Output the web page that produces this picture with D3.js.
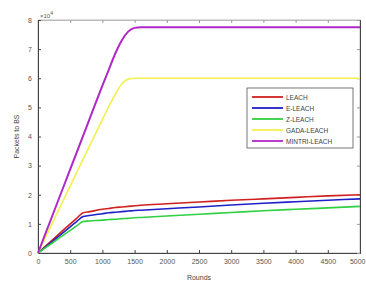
<!DOCTYPE html>
<html>
<head>
<meta charset="utf-8">
<script src="https://cdn.jsdelivr.net/npm/d3@7"></script>
<style>
  body { margin: 0; background: #fff; }
  text { font-family: "Liberation Sans", Arial, sans-serif; }
</style>
</head>
<body>
<script>
    "use strict";
    // values are in units of 10^4 packets
    var rounds = [0, 200, 400, 600, 700, 800, 1000, 1100, 1200, 1300, 1400, 1500, 1600, 2000, 2500, 3000, 3500, 4000, 4500, 5000];
    var leach = [0, 0.40, 0.80, 1.19, 1.38, 1.42, 1.50, 1.53, 1.56, 1.58, 1.60, 1.62, 1.64, 1.69, 1.75, 1.81, 1.86, 1.91, 1.96, 2.00];
    var eLeach = [0, 0.36, 0.72, 1.08, 1.25, 1.29, 1.35, 1.38, 1.40, 1.42, 1.44, 1.46, 1.47, 1.52, 1.58, 1.65, 1.71, 1.76, 1.81, 1.86];
    var zLeach = [0, 0.31, 0.62, 0.93, 1.08, 1.10, 1.13, 1.15, 1.16, 1.18, 1.19, 1.21, 1.22, 1.27, 1.33, 1.39, 1.45, 1.50, 1.55, 1.60];
    var gadaLeach = [0, 0.92, 1.84, 2.76, 3.22, 3.68, 4.58, 5.03, 5.45, 5.80, 5.97, 6.00, 6.00, 6.00, 6.00, 6.00, 6.00, 6.00, 6.00, 6.00];
    var mintriLeach = [0, 1.15, 2.30, 3.45, 4.02, 4.60, 5.75, 6.30, 6.85, 7.30, 7.60, 7.73, 7.75, 7.75, 7.75, 7.75, 7.75, 7.75, 7.75, 7.75];
    var seriesNames = ["LEACH", "E-LEACH", "Z-LEACH", "GADA-LEACH", "MINTRI-LEACH"];
    var seriesColors = ["#d02020", "#2020c8", "#30d040", "#f4f050", "#b028c8"];
    var xTicks = [0, 500, 1000, 1500, 2000, 2500, 3000, 3500, 4000, 4500, 5000];
    var yTicks = [0, 1, 2, 3, 4, 5, 6, 7, 8];

    var W = 366, H = 287;
    var m = { left: 38, right: 6, top: 20, bottom: 34 };

    var svg = d3.select("body").append("svg").attr("width", W).attr("height", H);

    var x = d3.scaleLinear().domain([0, 5000]).range([m.left, W - m.right]);
    var y = d3.scaleLinear().domain([0, 8]).range([H - m.bottom, m.top]);

    var axisColor = "#444";

    // frame
    svg.append("rect")
        .attr("x", x(0)).attr("y", y(8))
        .attr("width", x(5000) - x(0)).attr("height", y(0) - y(8))
        .attr("fill", "none").attr("stroke", "#bbb").attr("stroke-width", 1);

    var gx = svg.append("g").attr("transform", "translate(0," + y(0) + ")")
        .call(d3.axisBottom(x).tickValues(xTicks).tickFormat(d3.format("d")).tickSize(-3).tickPadding(6));
    var gxTop = svg.append("g").attr("transform", "translate(0," + y(8) + ")")
        .call(d3.axisTop(x).tickValues(xTicks).tickSize(-3).tickFormat(""));
    var gy = svg.append("g").attr("transform", "translate(" + x(0) + ",0)")
        .call(d3.axisLeft(y).tickValues(yTicks).tickSize(-3).tickPadding(6));
    var gyRight = svg.append("g").attr("transform", "translate(" + x(5000) + ",0)")
        .call(d3.axisRight(y).tickValues(yTicks).tickSize(-3).tickFormat(""));

    [gx, gy].forEach(function (g) {
        g.select(".domain").attr("stroke", axisColor);
        g.selectAll(".tick line").attr("stroke", axisColor);
        g.selectAll("text").attr("fill", "#555").style("font-size", "7px");
    });
    // keep the last x label inside the picture
    gx.selectAll(".tick text").filter(function (d) { return d === 5000; })
        .attr("text-anchor", "end").attr("dx", "5px");
    gxTop.select(".domain").attr("stroke", "#bbb");
    gxTop.selectAll(".tick line").attr("stroke", "#999");
    gyRight.select(".domain").attr("stroke", axisColor);
    gyRight.selectAll(".tick line").attr("stroke", "#999");

    // x10^4 multiplier
    var mult = svg.append("text").attr("x", x(0) + 2).attr("y", y(8) - 2)
        .attr("fill", "#555").style("font-size", "6px").text("\u00d710");
    mult.append("tspan").attr("dy", -3).style("font-size", "5px").text("4");

    svg.append("text")
        .attr("x", (x(0) + x(5000)) / 2).attr("y", H - 7)
        .attr("text-anchor", "middle").attr("fill", "#444").style("font-size", "7px")
        .text("Rounds");
    svg.append("text")
        .attr("transform", "translate(19," + ((y(0) + y(8)) / 2) + ") rotate(-90)")
        .attr("text-anchor", "middle").attr("fill", "#444").style("font-size", "7px")
        .text("Packets to BS");

    var line = d3.line()
        .x(function (d) { return x(d[0]); })
        .y(function (d) { return y(d[1]); })
        .curve(d3.curveMonotoneX);

    var allSeries = [leach, eLeach, zLeach, gadaLeach, mintriLeach];
    allSeries.forEach(function (vals, i) {
        var pts = rounds.map(function (r, k) { return [r, vals[k]]; });
        svg.append("path")
            .datum(pts)
            .attr("d", line)
            .attr("fill", "none")
            .attr("stroke", seriesColors[i])
            .attr("stroke-width", i === 4 ? 2 : 1.6);
    });

    // legend
    var lg = svg.append("g").attr("transform", "translate(247,88)");
    lg.append("rect").attr("width", 106).attr("height", 60)
        .attr("fill", "#fff").attr("stroke", "#555").attr("stroke-width", 0.8);
    seriesNames.forEach(function (name, i) {
        var yy = 9 + i * 11;
        lg.append("line").attr("x1", 5).attr("x2", 36).attr("y1", yy).attr("y2", yy)
            .attr("stroke", seriesColors[i]).attr("stroke-width", 1.8);
        lg.append("text").attr("x", 39).attr("y", yy + 2.5)
            .attr("fill", "#444").style("font-size", "6.5px").text(name);
    });
</script>
</body>
</html>
